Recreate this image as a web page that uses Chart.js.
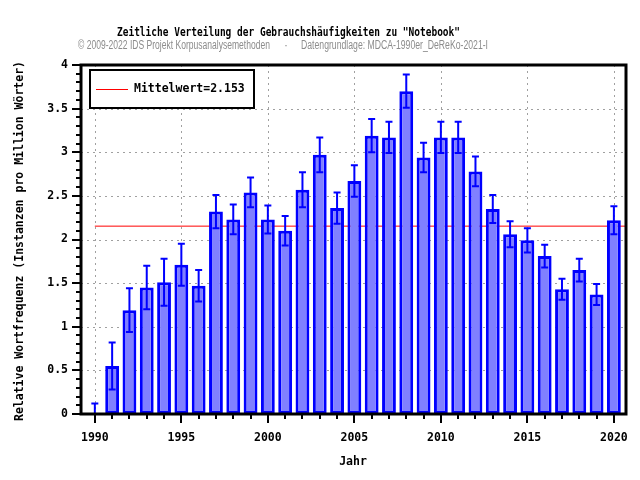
<!DOCTYPE html>
<html>
<head>
<meta charset="utf-8">
<script src="https://cdn.jsdelivr.net/npm/chart.js@4"></script>
<style>
  html, body { margin: 0; padding: 0; background: #fff; }
  #wrap { width: 640px; height: 480px; }
</style>
</head>
<body>
<div id="wrap"><canvas id="chart" width="640" height="480"></canvas></div>
<script>
// values
const years = [1990, 1991, 1992, 1993, 1994, 1995, 1996, 1997, 1998, 1999, 2000, 2001, 2002, 2003, 2004, 2005,
  2006, 2007, 2008, 2009, 2010, 2011, 2012, 2013, 2014, 2015, 2016, 2017, 2018, 2019, 2020];
const frequencies = [0, 0.55, 1.19, 1.45, 1.51, 1.71, 1.47, 2.32, 2.23, 2.54, 2.23, 2.10, 2.57, 2.97, 2.36, 2.67,
  3.19, 3.17, 3.70, 2.94, 3.17, 3.17, 2.78, 2.35, 2.06, 1.99, 1.81, 1.43, 1.65, 1.37, 2.22];
const errors = [0.12, 0.27, 0.25, 0.25, 0.27, 0.24, 0.18, 0.19, 0.17, 0.17, 0.16, 0.17, 0.20, 0.20, 0.18, 0.18,
  0.19, 0.18, 0.19, 0.17, 0.18, 0.18, 0.17, 0.16, 0.15, 0.14, 0.13, 0.12, 0.13, 0.12, 0.16];
const meanValue = 2.153;
const yTicks = [0, 0.5, 1, 1.5, 2, 2.5, 3, 3.5, 4];
const xTicks = [1990, 1995, 2000, 2005, 2010, 2015, 2020];

const mono = "'DejaVu Sans Mono', 'Liberation Mono', monospace";

const barData = years.map((y, i) => ({ x: y, y: frequencies[i] }));

// draw text squeezed to a given width (the reference uses a narrow font)
function fitText(ctx, text, x, y, width) {
  const w = ctx.measureText(text).width;
  ctx.save();
  ctx.translate(x, y);
  ctx.scale(Math.min(1, width / w), 1);
  ctx.fillText(text, 0, 0);
  ctx.restore();
}

// gridlines, axis box, ticks, error bars, legend, titles
const decorations = {
  id: "decorations",
  beforeDatasetsDraw(chart) {
    const { ctx, chartArea: a, scales: { x, y } } = chart;
    ctx.save();
    ctx.strokeStyle = "#a0a0a0";
    ctx.lineWidth = 1;
    ctx.setLineDash([2, 4]);
    yTicks.forEach(v => {
      if (v === 0 || v === 4) return;
      const py = Math.round(y.getPixelForValue(v)) + 0.5;
      ctx.beginPath(); ctx.moveTo(a.left, py); ctx.lineTo(a.right, py); ctx.stroke();
    });
    xTicks.forEach(v => {
      const px = Math.round(x.getPixelForValue(v)) + 0.5;
      ctx.beginPath(); ctx.moveTo(px, a.top); ctx.lineTo(px, a.bottom); ctx.stroke();
    });
    ctx.restore();
  },
  afterDatasetsDraw(chart) {
    const { ctx, chartArea: a, scales: { x, y } } = chart;
    ctx.save();
    // error bars
    ctx.strokeStyle = "#0000ff";
    ctx.lineWidth = 2;
    years.forEach((yr, i) => {
      const px = x.getPixelForValue(yr);
      const top = y.getPixelForValue(frequencies[i] + errors[i]);
      const lowVal = frequencies[i] - errors[i];
      const bot = y.getPixelForValue(Math.max(0, lowVal));
      ctx.beginPath();
      ctx.moveTo(px, top); ctx.lineTo(px, bot);
      ctx.moveTo(px - 3.5, top); ctx.lineTo(px + 3.5, top);
      if (lowVal > 0) { ctx.moveTo(px - 3.5, bot); ctx.lineTo(px + 3.5, bot); }
      ctx.stroke();
    });

    // minor / major ticks
    ctx.strokeStyle = "#000";
    ctx.lineWidth = 2;
    for (let k = 0; k <= 40; k++) {
      const py = Math.round(y.getPixelForValue(k / 10));
      const len = k % 5 === 0 ? 9 : 5;
      ctx.beginPath(); ctx.moveTo(a.left - len, py); ctx.lineTo(a.left, py); ctx.stroke();
    }
    for (let yr = 1990; yr <= 2020; yr++) {
      const px = Math.round(x.getPixelForValue(yr));
      const len = yr % 5 === 0 ? 9 : 5;
      ctx.beginPath(); ctx.moveTo(px, a.bottom); ctx.lineTo(px, a.bottom + len); ctx.stroke();
    }

    // axis box
    ctx.lineWidth = 3;
    ctx.strokeRect(a.left, a.top, a.right - a.left, a.bottom - a.top);

    // legend
    ctx.fillStyle = "#fff";
    ctx.fillRect(89, 70, 165, 38);
    ctx.lineWidth = 2;
    ctx.strokeRect(90, 70, 164, 38);
    ctx.strokeStyle = "#ff0000";
    ctx.lineWidth = 1;
    ctx.beginPath(); ctx.moveTo(96, 89.5); ctx.lineTo(128, 89.5); ctx.stroke();
    ctx.fillStyle = "#000";
    ctx.font = "bold 11.5px " + mono;
    ctx.textBaseline = "middle";
    ctx.textAlign = "left";
    ctx.fillText("Mittelwert=" + meanValue, 134, 89);

    // titles
    ctx.font = "bold 11.5px " + mono;
    fitText(ctx, "Zeitliche Verteilung der Gebrauchshäufigkeiten zu \"Notebook\"", 117, 33, 343);
    ctx.fillStyle = "#8c8c8c";
    ctx.font = "12px 'Liberation Sans Narrow', 'Liberation Sans', sans-serif";
    fitText(ctx, "© 2009-2022 IDS Projekt Korpusanalysemethoden", 78, 46, 192);
    ctx.fillText("·", 284, 46);
    fitText(ctx, "Datengrundlage: MDCA-1990er_DeReKo-2021-I", 301, 46, 187);

    // axis titles
    ctx.fillStyle = "#000";
    ctx.font = "bold 11.5px " + mono;
    ctx.textAlign = "center";
    ctx.fillText("Jahr", 353, 462);
    ctx.translate(20, 241);
    ctx.rotate(-Math.PI / 2);
    ctx.fillText("Relative Wortfrequenz (Instanzen pro Million Wörter)", 0, 0);
    ctx.restore();
  }
};

const ctx = document.getElementById("chart").getContext("2d");
new Chart(ctx, {
  type: "bar",
  data: {
    datasets: [{
      label: "Frequenz",
      data: barData,
      backgroundColor: "#8080ff",
      borderColor: "#0000ff",
      borderWidth: 3,
      borderSkipped: false,
      barPercentage: 1,
      categoryPercentage: 0.8,
      order: 1
    }, {
      type: "line",
      label: "Mittelwert",
      data: [{ x: 1990, y: meanValue }, { x: 2020.7, y: meanValue }],
      borderColor: "#ff0000",
      borderWidth: 1,
      pointRadius: 0,
      order: 2
    }]
  },
  options: {
    responsive: false,
    animation: false,
    layout: { padding: { left: 0, top: 65, right: 14, bottom: 0 } },
    plugins: {
      legend: { display: false },
      tooltip: { enabled: false }
    },
    scales: {
      x: {
        type: "linear",
        offset: false,
        min: 1989.2,
        max: 2020.7,
        grid: { display: false, drawTicks: false, offset: false },
        border: { display: false },
        afterBuildTicks: s => { s.ticks = xTicks.map(v => ({ value: v })); },
        afterFit: s => { s.height = 66; s.paddingLeft = 0; s.paddingRight = 0; },
        ticks: {
          padding: 17,
          color: "#000",
          font: { family: mono, size: 11.5, weight: "bold" },
          callback: v => String(v)
        }
      },
      y: {
        min: 0,
        max: 4,
        grid: { display: false, drawTicks: false },
        border: { display: false },
        afterBuildTicks: s => { s.ticks = yTicks.map(v => ({ value: v })); },
        afterFit: s => { s.width = 81; s.paddingTop = 0; s.paddingBottom = 0; },
        ticks: {
          padding: 13,
          color: "#000",
          font: { family: mono, size: 11.5, weight: "bold" },
          callback: v => String(v)
        }
      }
    }
  },
  plugins: [decorations]
});
</script>
</body>
</html>
